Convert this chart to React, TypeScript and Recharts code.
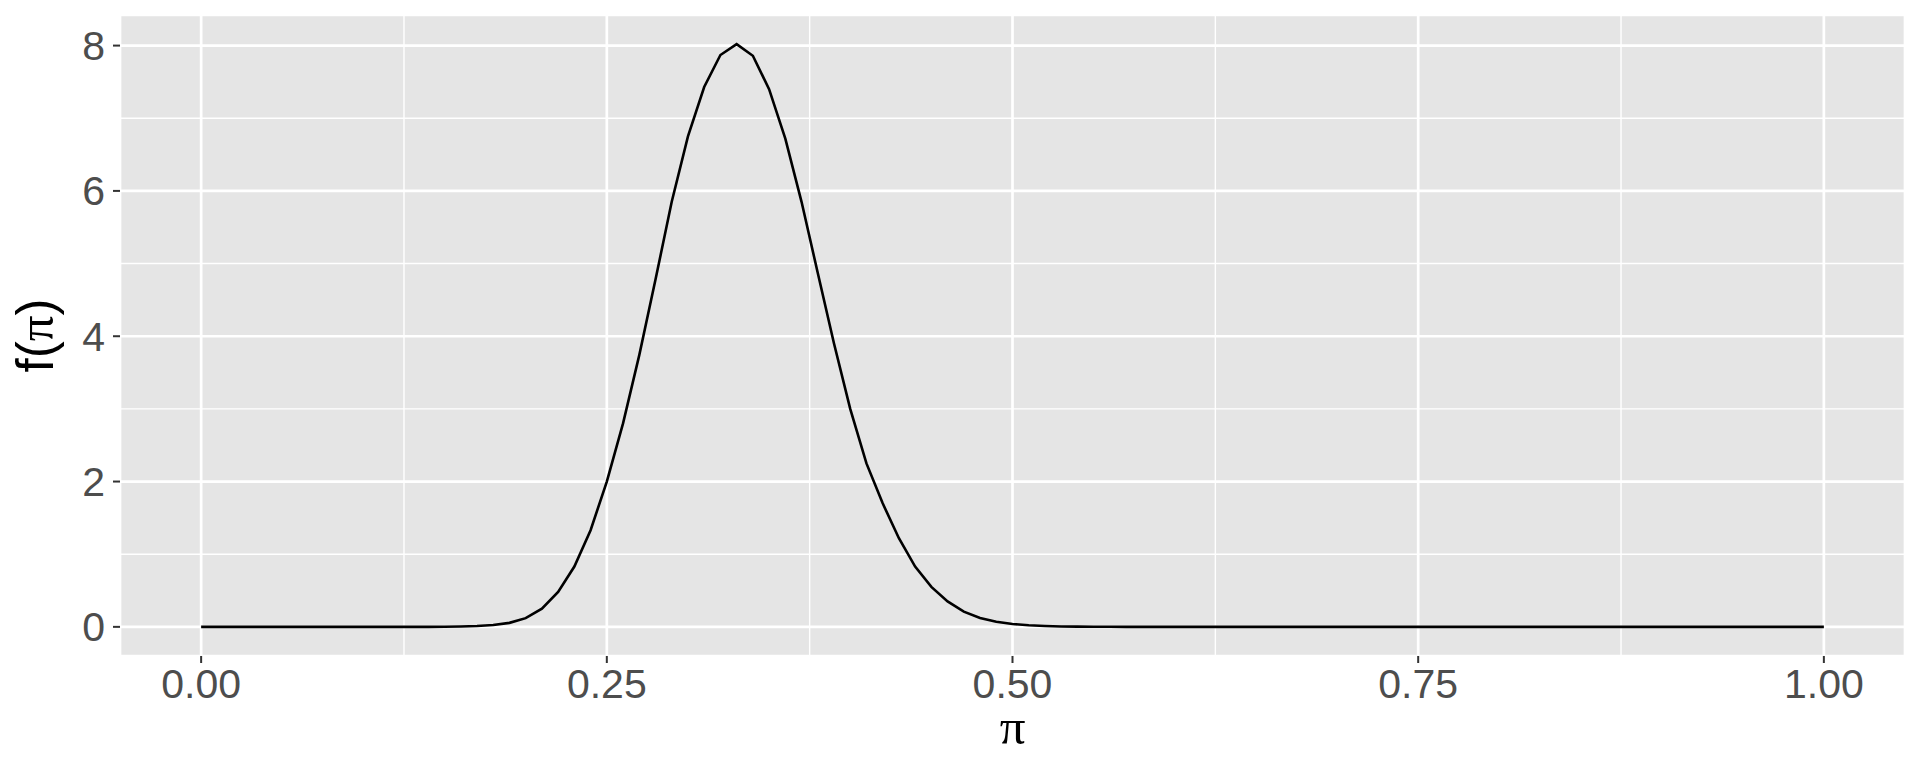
import React from 'react';
import {
  LineChart,
  Line,
  XAxis,
  YAxis,
  CartesianGrid,
} from 'recharts';

// pi grid (x values)
const piValues = [
  0.00, 0.01, 0.02, 0.03, 0.04, 0.05, 0.06, 0.07, 0.08, 0.09,
  0.10, 0.11, 0.12, 0.13, 0.14, 0.15, 0.16, 0.17, 0.18, 0.19,
  0.20, 0.21, 0.22, 0.23, 0.24, 0.25, 0.26, 0.27, 0.28, 0.29,
  0.30, 0.31, 0.32, 0.33, 0.34, 0.35, 0.36, 0.37, 0.38, 0.39,
  0.40, 0.41, 0.42, 0.43, 0.44, 0.45, 0.46, 0.47, 0.48, 0.49,
  0.50, 0.51, 0.52, 0.53, 0.54, 0.55, 0.56, 0.57, 0.58, 0.59,
  0.60, 0.61, 0.62, 0.63, 0.64, 0.65, 0.66, 0.67, 0.68, 0.69,
  0.70, 0.71, 0.72, 0.73, 0.74, 0.75, 0.76, 0.77, 0.78, 0.79,
  0.80, 0.81, 0.82, 0.83, 0.84, 0.85, 0.86, 0.87, 0.88, 0.89,
  0.90, 0.91, 0.92, 0.93, 0.94, 0.95, 0.96, 0.97, 0.98, 0.99,
  1.00,
];

// f(pi)
const densityValues = [
  0, 0, 0, 0, 0, 0, 0, 0, 0, 0,
  0, 0, 0, 0, 0, 0.002, 0.005, 0.012, 0.026, 0.055,
  0.12, 0.25, 0.48, 0.83, 1.33, 2.0, 2.8, 3.74, 4.78, 5.85,
  6.75, 7.43, 7.87, 8.02, 7.86, 7.4, 6.72, 5.85, 4.87, 3.9,
  3.0, 2.25, 1.7, 1.22, 0.83, 0.55, 0.35, 0.21, 0.123, 0.07,
  0.04, 0.022, 0.012, 0.006, 0.003, 0.0015, 0.0007, 0.0003, 0, 0,
  0, 0, 0, 0, 0, 0, 0, 0, 0, 0,
  0, 0, 0, 0, 0, 0, 0, 0, 0, 0,
  0, 0, 0, 0, 0, 0, 0, 0, 0, 0,
  0, 0, 0, 0, 0, 0, 0, 0, 0, 0,
  0,
];

const xMajorTicks = [0, 0.25, 0.5, 0.75, 1];
const xMinorTicks = [0.125, 0.375, 0.625, 0.875];
const yMajorTicks = [0, 2, 4, 6, 8];
const yMinorTicks = [1, 3, 5, 7];

const chartData = piValues.map((x, i) => ({ x, density: densityValues[i] }));

const tickStyle = { fontSize: 41, fill: '#4D4D4D', fontFamily: '"Liberation Sans", Arial, sans-serif' };

const App = () => {
  return (
    <div style={{ position: 'absolute', left: 0, top: 0, width: 1920, height: 768, background: '#fff' }}>
      <LineChart
        width={1920}
        height={768}
        data={chartData}
        margin={{ top: 15, right: 15, left: 0, bottom: 0 }}
      >
        <CartesianGrid
          fill="#E5E5E5"
          stroke="#FFFFFF"
          strokeWidth={2.7}
        />
        <CartesianGrid
          xAxisId="minor"
          yAxisId="minor"
          stroke="#FFFFFF"
          strokeWidth={1.4}
        />
        <XAxis
          dataKey="x"
          type="number"
          domain={[-0.05, 1.05]}
          ticks={xMajorTicks}
          interval={0}
          allowDataOverflow
          height={112}
          axisLine={false}
          tickLine={{ stroke: '#333333', strokeWidth: 2 }}
          tickSize={7}
          tickMargin={6}
          tick={tickStyle}
          tickFormatter={(v: number) => v.toFixed(2)}
          label={{
            content: () => (
              <text x={1012.5} y={744} textAnchor="middle" fontSize={51} fill="#000"
                fontFamily='"Liberation Serif", "Times New Roman", serif'>π</text>
            ),
          }}
        />
        <XAxis
          xAxisId="minor"
          dataKey="x"
          type="number"
          domain={[-0.05, 1.05]}
          ticks={xMinorTicks}
          interval={0}
          allowDataOverflow
          hide
        />
        <YAxis
          type="number"
          domain={[-0.401, 8.421]}
          ticks={yMajorTicks}
          interval={0}
          allowDataOverflow
          width={120}
          axisLine={false}
          tickLine={{ stroke: '#333333', strokeWidth: 2 }}
          tickSize={7}
          tickMargin={8}
          tick={tickStyle}
          label={{
            content: () => (
              <text x={53} y={335.5} textAnchor="middle" fontSize={51} fill="#000"
                transform="rotate(-90 53 335.5)" fontFamily='"Liberation Sans", Arial, sans-serif'>
                f(<tspan fontFamily='"Liberation Serif", "Times New Roman", serif'>π</tspan>)
              </text>
            ),
          }}
        />
        <YAxis
          yAxisId="minor"
          type="number"
          domain={[-0.401, 8.421]}
          ticks={yMinorTicks}
          interval={0}
          allowDataOverflow
          hide
        />
        <Line
          type="linear"
          dataKey="density"
          stroke="#000000"
          strokeWidth={2.6}
          dot={false}
          activeDot={false}
          isAnimationActive={false}
        />
      </LineChart>
    </div>
  );
};

export default App;
